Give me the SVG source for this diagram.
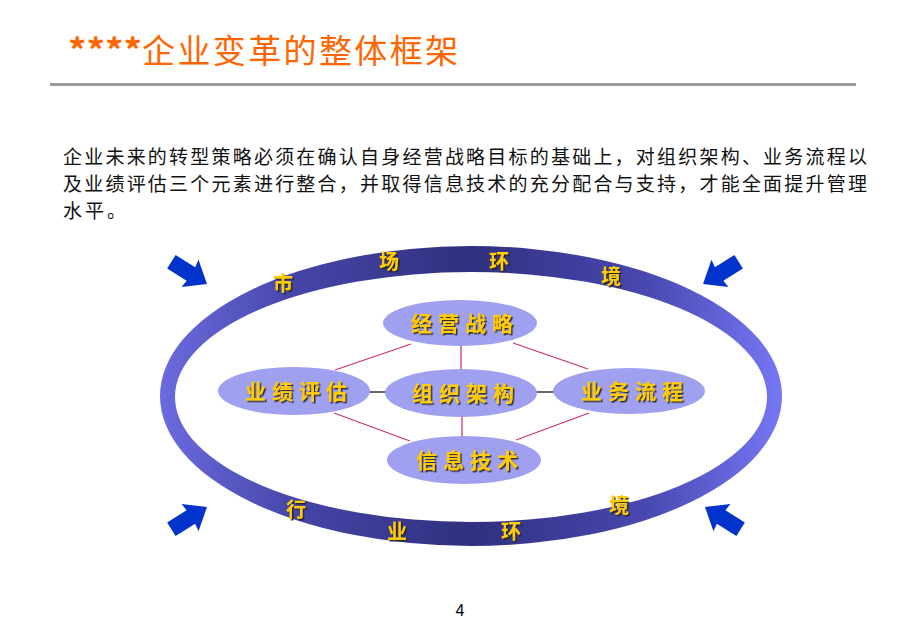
<svg xmlns="http://www.w3.org/2000/svg" width="920" height="638" viewBox="0 0 920 638">
<style>
.title{font-family:"Noto Sans CJK SC","Liberation Sans",sans-serif;font-size:33px;fill:#FF6600}
.para{font-family:"Noto Sans CJK SC",sans-serif;font-size:19px;fill:#111}
.ring{font-family:"Noto Sans CJK SC",sans-serif;font-size:20px;font-weight:bold;fill:#FFCC00;text-anchor:middle;filter:url(#sh)}
.node{fill:#A0A0F0}
.nlabel{font-family:"Noto Sans CJK SC",sans-serif;font-size:21px;font-weight:bold;fill:#FFCC00;text-anchor:middle;letter-spacing:6px;filter:url(#sh)}
.pink{stroke:#CC3377;stroke-width:1.3;fill:none}
.blk{stroke:#333;stroke-width:1.5;fill:none}
.arrow{fill:#0033CC}
</style>
<defs>
<filter id="sh" x="-20%" y="-20%" width="140%" height="140%">
<feDropShadow dx="1.5" dy="1.5" stdDeviation="0" flood-color="#222" flood-opacity="0.9"/>
</filter>
<linearGradient id="rg" gradientUnits="userSpaceOnUse" x1="160" y1="0" x2="782" y2="0">
<stop offset="0" stop-color="#6b6be0"/>
<stop offset="0.22" stop-color="#4545a8"/>
<stop offset="0.5" stop-color="#30307f"/>
<stop offset="0.78" stop-color="#4848b0"/>
<stop offset="1" stop-color="#7777f5"/>
</linearGradient>
<polygon id="arr" points="-42,-8 -19,-8 -20,-16 0,0 -20,16 -19,8 -42,8"/>
</defs>
<rect width="920" height="638" fill="#fff"/>
<g id="title">
<text class="title" x="68" y="63" textLength="74" lengthAdjust="spacingAndGlyphs" font-weight="bold">****</text>
<text class="title" x="142" y="63" textLength="316">企业变革的整体框架</text>
<rect x="50" y="83" width="806" height="3" fill="#9a9a9a"/>
</g>
<g id="paragraph">
<text class="para" x="63" y="164" textLength="804">企业未来的转型策略必须在确认自身经营战略目标的基础上，对组织架构、业务流程以</text>
<text class="para" x="63" y="191" textLength="804">及业绩评估三个元素进行整合，并取得信息技术的充分配合与支持，才能全面提升管理</text>
<text class="para" x="63" y="218" textLength="63">水平。</text>
</g>
<g id="ring">
<path fill="url(#rg)" fill-rule="evenodd" d="M160,396 a311,150 0 1,0 622,0 a311,150 0 1,0 -622,0 Z M175,397 a296,125 0 1,0 592,0 a296,125 0 1,0 -592,0 Z"/>
<text class="ring" x="283" y="291">市</text>
<text class="ring" x="389" y="269">场</text>
<text class="ring" x="499" y="269">环</text>
<text class="ring" x="611" y="284">境</text>
<text class="ring" x="296" y="517">行</text>
<text class="ring" x="397" y="539">业</text>
<text class="ring" x="511" y="539">环</text>
<text class="ring" x="619" y="513">境</text>
</g>
<g id="arrows">
<use href="#arr" class="arrow" transform="translate(207,284) rotate(32)"/>
<use href="#arr" class="arrow" transform="translate(703,284) rotate(148)"/>
<use href="#arr" class="arrow" transform="translate(207,507) rotate(-32)"/>
<use href="#arr" class="arrow" transform="translate(705,507) rotate(-148)"/>
</g>
<g id="connectors">
<line class="pink" x1="411" y1="344" x2="335" y2="370"/>
<line class="pink" x1="513" y1="343" x2="588" y2="369"/>
<line class="pink" x1="334" y1="413" x2="410" y2="441"/>
<line class="pink" x1="589" y1="413" x2="516" y2="440"/>
<line class="pink" x1="461" y1="345" x2="461" y2="371"/>
<line class="pink" x1="462" y1="415" x2="462" y2="438"/>
<line class="blk" x1="369" y1="392" x2="386" y2="392"/>
<line class="blk" x1="536" y1="392" x2="554" y2="392"/>
</g>
<g id="n-strategy">
<ellipse class="node" cx="460" cy="323" rx="77" ry="23"/>
<text class="nlabel" x="465" y="331">经营战略</text>
</g>
<g id="n-performance">
<ellipse class="node" cx="294" cy="391" rx="76" ry="24"/>
<text class="nlabel" x="299" y="399">业绩评估</text>
</g>
<g id="n-organization">
<ellipse class="node" cx="461" cy="393" rx="76" ry="24"/>
<text class="nlabel" x="466" y="401">组织架构</text>
</g>
<g id="n-process">
<ellipse class="node" cx="629" cy="391" rx="76" ry="23"/>
<text class="nlabel" x="635" y="399">业务流程</text>
</g>
<g id="n-it">
<ellipse class="node" cx="464" cy="460" rx="77" ry="24"/>
<text class="nlabel" x="470" y="468">信息技术</text>
</g>
<text x="460" y="616" font-family="Liberation Sans, sans-serif" font-size="16" text-anchor="middle" fill="#000">4</text>
</svg>
